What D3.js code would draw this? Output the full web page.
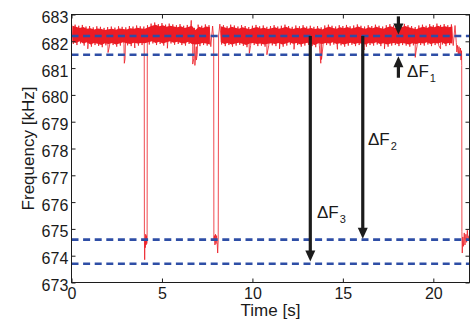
<!DOCTYPE html>
<html>
<head>
<meta charset="utf-8">
<script src="https://cdn.jsdelivr.net/npm/d3@7"></script>
<style>
body { margin: 0; background: #fff; }
svg text { font-family: "Liberation Sans", Arial, Helvetica, sans-serif; fill: #1a1a1a; }
</style>
</head>
<body>
<svg width="471" height="328"></svg>
<script>
// noisy band of the trace: top edge read every 0.2 s (t = i*0.2), bottom edge at t = i*0.2 + 0.1
var bandHi = [682.66, 682.62, 682.58, 682.61, 682.55, 682.57, 682.52, 682.56, 682.54, 682.50,
              682.53, 682.55, 682.51, 682.56, 682.54, 682.52, 682.57, 682.55, 682.59, 682.56,
              682.55, 682.60, 682.66, 682.70, 682.64, 682.68, 682.62, 682.66, 682.63, 682.60,
              682.64, 682.58, 682.61, 682.66, 682.50, 682.62, 682.58, 682.63, 682.60, 682.57,
              682.58, 682.64, 682.60, 682.56, 682.62, 682.59, 682.55, 682.60, 682.57, 682.53,
              682.58, 682.61, 682.56, 682.59, 682.54, 682.57, 682.60, 682.55, 682.58, 682.62,
              682.57, 682.54, 682.59, 682.56, 682.60, 682.55, 682.58, 682.54, 682.57, 682.52,
              682.59, 682.62, 682.58, 682.55, 682.60, 682.57, 682.61, 682.56, 682.59, 682.63,
              682.58, 682.55, 682.60, 682.57, 682.62, 682.58, 682.55, 682.60, 682.64, 682.59,
              682.56, 682.61, 682.65, 682.60, 682.57, 682.53, 682.59, 682.62, 682.58, 682.64,
              682.60, 682.66, 682.61, 682.64, 682.60, 682.63, 682.59];
var bandLo = [681.90, 681.86, 681.92, 681.84, 681.88, 681.80, 681.86, 681.83, 681.78, 681.85,
              681.82, 681.86, 681.80, 681.84, 681.88, 681.85, 681.82, 681.87, 681.84, 681.86,
              681.85, 681.88, 681.92, 681.86, 681.90, 681.84, 681.88, 681.92, 681.87, 681.90,
              681.86, 681.84, 681.90, 681.82, 681.80, 681.82, 681.86, 681.84, 681.80, 681.85,
              681.84, 681.88, 681.82, 681.86, 681.80, 681.84, 681.87, 681.83, 681.78, 681.84,
              681.86, 681.82, 681.84, 681.80, 681.83, 681.85, 681.82, 681.86, 681.80, 681.84,
              681.88, 681.83, 681.86, 681.80, 681.84, 681.87, 681.82, 681.78, 681.85, 681.82,
              681.86, 681.84, 681.88, 681.82, 681.85, 681.80, 681.84, 681.87, 681.82, 681.86,
              681.83, 681.80, 681.86, 681.84, 681.88, 681.82, 681.85, 681.80, 681.84, 681.86,
              681.82, 681.86, 681.84, 681.80, 681.85, 681.82, 681.86, 681.84, 681.88, 681.82,
              681.86, 681.84, 681.88, 681.82, 681.86, 681.84, 681.87];
var bandStep = 0.2;

// single spikes out of the band [time, kHz]
var dips = [[0.9, 681.72], [2.02, 681.58], [2.92, 681.18], [2.96, 681.35], [3.5, 681.75],
            [5.3, 681.74], [6.62, 682.78], [6.7, 681.15], [6.76, 681.35], [6.82, 681.1],
            [6.9, 681.3], [6.95, 681.5], [9.83, 681.55], [10.8, 681.5], [11.5, 681.72],
            [12.3, 681.7], [13.78, 681.18], [13.82, 681.32], [14.7, 681.7], [16.18, 681.68],
            [17.3, 681.72], [19.0, 681.4], [19.04, 681.6], [20.4, 681.72]];

// short drops of the frequency [time, kHz]
var drop1 = [[4.02, 682.1], [4.03, 674.7], [4.045, 673.85], [4.06, 674.6], [4.08, 674.3],
             [4.10, 674.8], [4.12, 674.4], [4.14, 674.75], [4.16, 674.45], [4.18, 674.6], [4.19, 682.2]];
var drop2 = [[7.86, 682.1], [7.87, 674.6], [7.9, 674.75], [7.93, 674.4], [7.96, 674.8],
             [7.99, 674.45], [8.02, 674.75], [8.05, 674.5], [8.08, 674.1], [8.11, 674.6], [8.13, 682.2]];
// end of the record
var tail = [[21.27, 681.95], [21.3, 681.6], [21.34, 681.85], [21.38, 681.5], [21.42, 681.8],
            [21.46, 681.45], [21.5, 681.75], [21.53, 681.3], [21.56, 681.65], [21.57, 681.1],
            [21.58, 674.9], [21.6, 674.1], [21.63, 674.7], [21.67, 674.35], [21.71, 674.85],
            [21.75, 674.4], [21.8, 674.8], [21.84, 674.5], [21.88, 674.95], [21.92, 674.55], [21.96, 674.75]];

var levels = [682.2, 681.5, 674.6, 673.7];
var arrows = [{t: 13.2, from: 682.2, to: 673.78},
              {t: 16.1, from: 682.2, to: 674.63},
              {t: 18.07, from: 682.93, to: 682.25},
              {t: 18.07, from: 680.64, to: 681.44}];
var labels = [{sub: "1", t: 18.55, f: 680.68},
              {sub: "2", t: 16.39, f: 678.13},
              {sub: "3", t: 13.57, f: 675.41}];
var xTicks = [0, 5, 10, 15, 20];
var yTicks = [673, 674, 675, 676, 677, 678, 679, 680, 681, 682, 683];

var svg = d3.select("svg");
var x = d3.scaleLinear().domain([0, 22]).range([71.5, 469.5]);
var y = d3.scaleLinear().domain([673, 683]).range([282.5, 14.5]);

var drops = [drop1, drop2];
function inDrop(t) {
    for (let i = 0; i < drops.length; i++) {
        if (t >= drops[i][0][0] && t <= drops[i][drops[i].length - 1][0]) return true;
    }
    return t > tail[0][0];
}

// build the trace: zigzag through the band edges plus spikes and drops
var pts = [];
for (let i = 0; i < bandHi.length; i++) {
    let t1 = i * bandStep, t2 = i * bandStep + bandStep / 2;
    if (!inDrop(t1)) pts.push([t1, bandHi[i]]);
    if (!inDrop(t2)) pts.push([t2, bandLo[i]]);
}
pts = pts.concat(dips, drop1, drop2, tail);
pts.sort(function(a, b) { return a[0] - b[0]; });

var rows = bandHi.map(function(h, i) { return {t: i * bandStep, hi: h, lo: bandLo[i]}; });

var red = "#ec1c24";
svg.append("path")
   .datum(rows)
   .attr("fill", red)
   .attr("d", d3.area()
        .defined(function(d) { return !inDrop(d.t) && !inDrop(d.t + bandStep); })
        .x(function(d) { return x(d.t + 0.05); })
        .y0(function(d) { return y(d.lo + 0.08); })
        .y1(function(d) { return y(d.hi - 0.08); }));

svg.append("path")
   .datum(pts)
   .attr("fill", "none")
   .attr("stroke", red)
   .attr("stroke-width", 0.8)
   .attr("d", d3.line().x(d => x(d[0])).y(d => y(d[1])));

// dashed levels
svg.selectAll(".lev")
   .data(levels)
   .enter().append("line")
   .attr("x1", x(0)).attr("x2", x(22))
   .attr("y1", d => y(d)).attr("y2", d => y(d))
   .attr("stroke", "#2e4ea6")
   .attr("stroke-width", 2.6)
   .attr("stroke-dasharray", "7,4.6");

// arrows
var ink = "#1c1c1c";
arrows.forEach(function(a) {
    let xa = x(a.t), y0 = y(a.from), y1 = y(a.to);
    let dir = y1 > y0 ? 1 : -1;
    let hl = 11, hw = 5;
    svg.append("line")
       .attr("x1", xa).attr("x2", xa)
       .attr("y1", y0).attr("y2", y1 - dir * (hl - 1))
       .attr("stroke", ink).attr("stroke-width", 3.2);
    svg.append("path")
       .attr("fill", ink)
       .attr("d", "M" + xa + "," + y1 + "L" + (xa - hw) + "," + (y1 - dir * hl) + "L" + (xa + hw) + "," + (y1 - dir * hl) + "Z");
});

labels.forEach(function(l) {
    let tx = svg.append("text")
       .attr("x", x(l.t)).attr("y", y(l.f))
       .attr("font-size", "17px")
       .text("\u0394F");
    tx.append("tspan")
      .attr("dx", 1).attr("dy", 5)
      .attr("font-size", "11px")
      .text(l.sub);
});

// frame and ticks (pointing inward)
var axisStyle = function(g) {
    g.select(".domain").remove();
    g.selectAll(".tick line").attr("stroke", ink);
    g.selectAll("text").attr("font-size", "16px").attr("fill", "#1a1a1a")
     .attr("font-family", "Liberation Sans, Arial, sans-serif");
};
svg.append("g").attr("transform", "translate(0," + y(673) + ")")
   .call(d3.axisBottom(x).tickValues(xTicks).tickSizeInner(-4).tickSizeOuter(0).tickPadding(5.5))
   .call(axisStyle);
svg.append("g").attr("transform", "translate(0," + y(683) + ")")
   .call(d3.axisTop(x).tickValues(xTicks).tickSizeInner(-4).tickSizeOuter(0).tickFormat(""))
   .call(axisStyle);
svg.append("g").attr("transform", "translate(" + x(0) + ",0)")
   .call(d3.axisLeft(y).tickValues(yTicks).tickSizeInner(-4).tickSizeOuter(0).tickPadding(3.2).tickFormat(d3.format("d")))
   .call(axisStyle)
   .selectAll("text").attr("dy", "0.5em");
svg.append("g").attr("transform", "translate(" + x(22) + ",0)")
   .call(d3.axisRight(y).tickValues(yTicks).tickSizeInner(-4).tickSizeOuter(0).tickFormat(""))
   .call(axisStyle);

svg.append("rect")
   .attr("x", x(0)).attr("y", y(683))
   .attr("width", x(22) - x(0)).attr("height", y(673) - y(683))
   .attr("fill", "none").attr("stroke", ink).attr("stroke-width", 1);

svg.append("text")
   .attr("x", (x(0) + x(22)) / 2).attr("y", 316)
   .attr("text-anchor", "middle").attr("font-size", "17px")
   .text("Time [s]");
svg.append("text")
   .attr("transform", "translate(33.5," + (y(673) + y(683)) / 2 + ") rotate(-90)")
   .attr("text-anchor", "middle").attr("font-size", "17px")
   .text("Frequency [kHz]");
</script>
</body>
</html>
